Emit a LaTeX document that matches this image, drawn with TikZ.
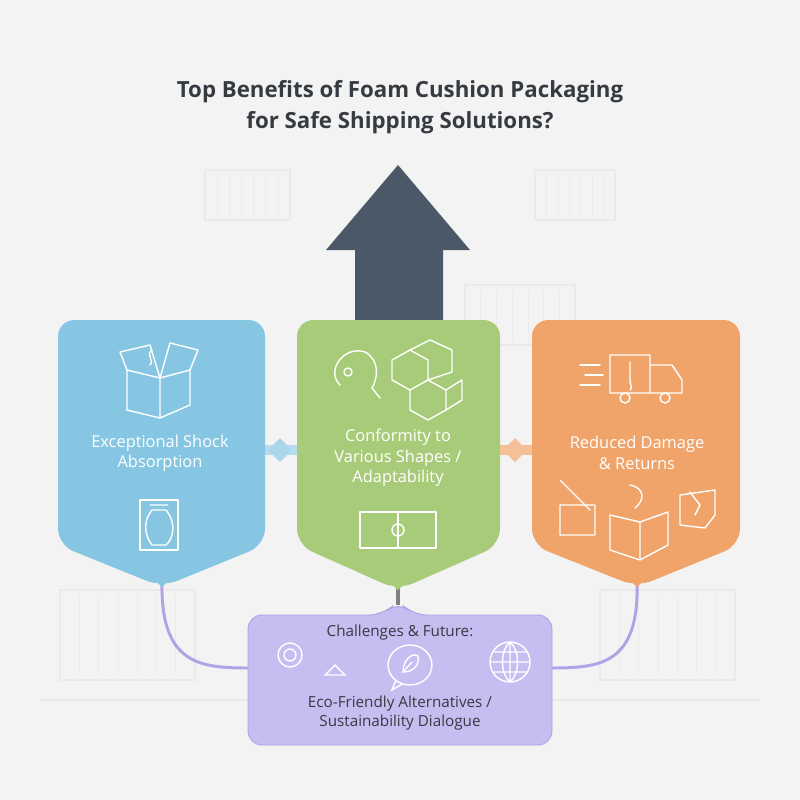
\documentclass[tikz,border=0pt]{standalone}
\usepackage{fontspec}
\setmainfont{Open Sans}
\begin{document}
\begin{tikzpicture}[x=0.03cm,y=-0.03cm,
  lbl/.style={text=white,align=center,font=\fontsize{14}{17.5}\selectfont},
  ico/.style={white,line width=1.2pt,line join=round,line cap=round},
  pico/.style={white,line width=1.2pt}]
\definecolor{bg}{HTML}{F3F3F3}
\definecolor{arr}{HTML}{4A5867}
\definecolor{cb}{HTML}{86C6E2}
\definecolor{cg}{HTML}{A8CB7A}
\definecolor{co}{HTML}{F0A46A}
\definecolor{cp}{HTML}{C6BDF1}
\definecolor{cpb}{HTML}{AFA2E6}
\definecolor{faint}{HTML}{EAEAEA}
\definecolor{txt}{HTML}{363B42}
\fill[bg] (0,0) rectangle (800,800);
% faint containers
\foreach \x/\y/\w/\h in {205/170/85/50, 535/170/80/50, 465/285/110/60, 60/590/135/90, 600/590/135/90}{
  \draw[faint,line width=1pt] (\x,\y) rectangle ++(\w,\h);
  \foreach \i in {1,...,6} \draw[faint] (\x+\i*\w/7,\y+5) -- ++(0,\h-10);}
\draw[faint,line width=1pt] (40,700) -- (760,700);
% title
\node (title) [text=txt,align=center,font=\fontsize{19}{26}\selectfont\bfseries] at (400,107) {Top Benefits of Foam Cushion Packaging\\for Safe Shipping Solutions?};
% big arrow
\fill[arr] (355,340) -- (355,250) -- (326,250) -- (398,165) -- (470,250) -- (443,250) -- (443,340) -- cycle;
% connectors between boxes
\fill[cb!60!white] (262,445) rectangle (300,455);
\fill[cb!70!white] (280,438) -- (292,450) -- (280,462) -- (268,450) -- cycle;
\fill[co!70!white] (497,445) rectangle (535,455);
\fill[co!70!white] (515,438) -- (527,450) -- (515,462) -- (503,450) -- cycle;
% links to purple
\draw[cpb,line width=2.5pt] (162,580) .. controls (160,665) and (200,668) .. (250,668);
\draw[cpb,line width=2.5pt] (637,580) .. controls (640,665) and (600,668) .. (550,668);
\draw[gray,line width=3pt] (398,585) -- (398,605);
% boxes
\fill[cb,rounded corners=14pt] (58,545) -- (58,320) -- (265,320) -- (265,545) -- (162,587) -- cycle;
\fill[cg,rounded corners=14pt] (297,545) -- (297,320) -- (500,320) -- (500,545) -- (398,590) -- cycle;
\fill[co,rounded corners=14pt] (532,545) -- (532,320) -- (740,320) -- (740,545) -- (637,587) -- cycle;
\fill[cb] (150,575) -- (174,575) -- (162,587) -- cycle;
\fill[cg] (385,578) -- (411,578) -- (398,590) -- cycle;
\fill[co] (625,575) -- (649,575) -- (637,587) -- cycle;
% purple
\filldraw[fill=cp,draw=cpb,line width=0.8pt,rounded corners=12pt] (248,615) -- (383,615) -- (398,601) -- (413,615) -- (552,615) -- (552,745) -- (248,745) -- cycle;
% labels
\node (b1) [lbl] at (160,453) {Exceptional Shock\\Absorption};
\node (b2) [lbl] at (398,458) {Conformity to\\Various Shapes /\\Adaptability};
\node (b3) [lbl] at (637,453) {Reduced Damage\\\& Returns};
\node (p1) [text=txt,font=\fontsize{13}{16}\selectfont] at (400,633) {Challenges \& Future:};
\node (p2) [text=txt,align=center,font=\fontsize{13}{17}\selectfont] at (400,713) {Eco-Friendly Alternatives /\\Sustainability Dialogue};
% icons blue
\draw[ico] (127,370) -- (127,410) -- (160,418) -- (190,405) -- (190,370) -- (160,378) -- cycle (160,378) -- (160,418);
\draw[ico] (127,370) -- (120,352) -- (150,345) -- (160,378) (190,370) -- (198,350) -- (170,343) -- (160,378);
\draw[ico] (150,365) .. controls (155,360) and (145,355) .. (152,350);
\draw[ico] (140,500) -- (140,550) -- (178,550) -- (178,500) -- cycle;
\draw[ico] (150,505) -- (168,505) (152,510) .. controls (140,525) and (148,540) .. (152,545) -- (166,545) .. controls (172,540) and (178,525) .. (166,510) -- cycle;
% icons green
\draw[ico] (340,385) .. controls (325,370) and (345,345) .. (365,352) .. controls (380,360) and (378,378) .. (372,388) -- (380,398) (348,372) circle (4);
\draw[ico] (392,360) -- (410,350) -- (428,360) -- (428,380) -- (410,390) -- (392,380) -- cycle;
\draw[ico] (410,350) -- (430,340) -- (452,350) -- (452,372) -- (428,380);
\draw[ico] (410,390) -- (410,410) -- (428,420) -- (446,410) -- (446,390) -- (428,380) (446,390) -- (462,380) -- (462,400) -- (446,410);
\draw[ico] (360,512) -- (398,512) -- (398,548) -- (360,548) -- cycle (398,512) -- (436,512) -- (436,548) -- (398,548);
\draw[ico] (398,530) circle (6);
% icons orange
\draw[ico] (610,355) rectangle (650,393) (650,365) -- (672,365) -- (682,380) -- (682,393) -- (650,393);
\draw[ico] (625,398) circle (5) (665,398) circle (5);
\draw[ico] (580,365) -- (600,365) (585,375) -- (603,375) (580,385) -- (600,385);
\draw[ico] (630,362) -- (630,380) .. controls (630,385) and (633,388) .. (630,390);
\draw[ico] (560,505) -- (560,535) -- (595,535) -- (595,505) -- cycle (560,480) -- (590,510);
\draw[ico] (610,515) -- (610,550) -- (640,560) -- (668,545) -- (668,512) -- (640,522) -- cycle (640,522) -- (640,560) (630,485) .. controls (645,488) and (645,500) .. (635,508);
\draw[ico] (680,495) -- (680,525) -- (705,528) -- (715,515) -- (715,490) -- cycle (690,492) -- (700,505) -- (695,515);
% purple icons
\draw[pico] (290,655) circle (12) (290,655) circle (6);
\draw[pico] (325,675) -- (335,665) -- (345,675) -- cycle;
\draw[pico] (410,665) ellipse (22 and 20) (396,680) -- (392,690) -- (402,684);
\draw[pico] (403,672) .. controls (403,660) and (412,652) .. (418,656) .. controls (420,666) and (412,672) .. (403,672) -- (412,662);
\draw[pico] (510,662) circle (20) (510,642) .. controls (500,650) and (500,674) .. (510,682) (510,642) .. controls (520,650) and (520,674) .. (510,682) (490,662) -- (530,662) (510,642) -- (510,682) (494,652) -- (526,652) (494,672) -- (526,672);
\end{tikzpicture}
\end{document}
